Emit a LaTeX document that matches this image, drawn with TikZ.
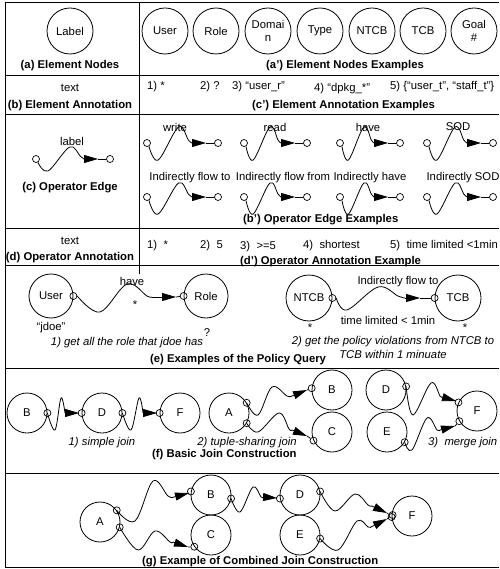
\documentclass[tikz,border=0pt]{standalone}
\usepackage{fontspec}
\setmainfont{Liberation Sans}
\usetikzlibrary{arrows.meta}
% #1 name, #2 x, #3 y, #4 trough depth, #5 crest height, #6 width (small circle to small circle)
\newcommand{\OpEdge}[6]{%
  \node[sc] (#1l) at (#2,#3) {};
  \node[sc] (#1r) at ({#2+#6},#3) {};
  \coordinate (#1b) at ({#2+#6-26},#3);
  \coordinate (#1t) at ({#2+#6-12},#3);
  \draw[wire] plot[smooth,tension=0.6] coordinates {(#1l.-60) ({#2+0.25*(#6-26)},{#3+#4}) ({#2+0.7*(#6-26)},{#3-#5}) ({#2+0.92*(#6-26)},{#3-3}) (#1b)};
  \draw[tri] (#1b) -- (#1t);
  \draw[wire] (#1t) -- (#1r);
}
\begin{document}
\begin{tikzpicture}[x=1pt,y=-1pt,
  every node/.style={font=\fontsize{11.3}{13}\selectfont, inner sep=0pt},
  bc/.style={circle,draw,line width=0.8pt,minimum size=46pt,inner sep=0pt,align=center},
  fc/.style={circle,draw,line width=0.8pt,minimum size=40pt,inner sep=0pt},
  sc/.style={circle,draw,line width=0.7pt,minimum size=7pt,inner sep=0pt},
  wire/.style={line width=0.8pt},
  tri/.style={line width=0.8pt,-{Triangle[length=14pt,width=8pt]}},
  gridln/.style={line width=1pt},
  captxt/.style={font=\fontsize{11.3}{13}\selectfont\bfseries},
  ital/.style={font=\fontsize{11.3}{13}\selectfont\itshape},
]
\useasboundingbox (0,0) rectangle (499,569);
% ---------- grid ----------
\foreach \yy in {3,76,115,228,265,368,473,567} \draw[gridln] (5,\yy) -- (499,\yy);
\draw[gridln] (5,3) -- (5,567);
\draw[gridln] (139,3) -- (139,274);

% ---------- row a ----------
\node[bc] (lab) at (70,31) {Label};
\node[captxt] (capa) at (70,66) {(a) Element Nodes};
\node[bc] (nUser) at (165,31) {User};
\node[bc] (nRole) at (216,31) {Role};
\node[bc] (nDom) at (268,31) {Domai\\n};
\node[bc] (nType) at (320,31) {Type};
\node[bc] (nNTCB) at (372,31) {NTCB};
\node[bc] (nTCB) at (423,31) {TCB};
\node[bc] (nGoal) at (474,31) {Goal\\\#};
\node[captxt,anchor=west] (capa2) at (266,66) {(a’) Element Nodes Examples};

% ---------- row b ----------
\node (txtb) at (70,88) {text};
\node[captxt] (capb) at (70,106) {(b) Element Annotation};
\node[anchor=west] (b1) at (147,87) {1) *};
\node[anchor=west] (b2) at (200,87) {2) ?};
\node[anchor=west] (b3) at (232,87) {3) “user\_r”};
\node[anchor=west] (b4) at (314,89) {4) “dpkg\_*”};
\node[anchor=west] (b5) at (390,87) {5) \{“user\_t”, “staff\_t”\}};
\node[captxt,anchor=west] (capc2) at (252,106) {(c’) Element Annotation Examples};

% ---------- row c ----------
\OpEdge{e0}{36}{159}{12}{12}{74}
\node (lbl0) at (72,141) {label};
\node[captxt] (capc) at (70,188) {(c) Operator Edge};

\OpEdge{ew}{147}{143}{17}{16}{71}
\OpEdge{er}{244}{143}{17}{16}{63}
\OpEdge{eh}{340}{143}{17}{16}{60}
\OpEdge{es}{427}{143}{17}{16}{66}
\node (lw) at (175,127) {write};
\node (lr) at (275,127) {read};
\node (lh) at (368,127) {have};
\node (ls) at (458,127) {SOD};

\OpEdge{iw}{147}{197}{17}{14}{71}
\OpEdge{ir}{244}{197}{17}{14}{63}
\OpEdge{ih}{340}{197}{17}{14}{60}
\OpEdge{is}{427}{197}{17}{14}{66}
\node (liw) at (190,178) {Indirectly flow to};
\node (lir) at (283,178) {Indirectly flow from};
\node (lih) at (370,178) {Indirectly have};
\node (lis) at (463,178) {Indirectly SOD};
\node[captxt,anchor=west] (capb2) at (243,220) {(b’) Operator Edge Examples};

% ---------- row d ----------
\node (txtd) at (70,241) {text};
\node[captxt] (capd) at (70,258) {(d) Operator Annotation};
\node[anchor=west] (d1) at (147,246) {1)\ \ *};
\node[anchor=west] (d2) at (200,246) {2)\ \ 5};
\node[anchor=west] (d3) at (240,247) {3)\ \ >=5};
\node[anchor=west] (d4) at (303,246) {4)\ \ shortest};
\node[anchor=west] (d5) at (390,246) {5)\ \ time limited <1min};
\node[captxt,anchor=west] (capd2) at (240,262) {(d’) Operator Annotation Example};

% ---------- row e ----------
\node[bc,minimum size=44pt] (qU) at (51,296) {User};
\node[bc,minimum size=44pt] (qR) at (206,296) {Role};
\node[sc] (qUs) at (qU.east) {};
\node[sc] (qRs) at (qR.west) {};
\coordinate (qb1) at (161,297);
\coordinate (qt1) at (176,297);
\draw[wire] plot[smooth,tension=0.6] coordinates {(qUs.east) (100,312) (127,284) (147,296) (152,297)};
\draw[wire] (152,297) -- (qb1);
\draw[tri] (qb1) -- (qt1);
\draw[wire] (qt1) -- (qRs);
\node (qhave) at (132,281) {have};
\node (qstar) at (135,305) {*};
\node (qjdoe) at (51,328) {“jdoe”};
\node (qq) at (207,333) {?};
\node[ital] (q1) at (127,343) {1) get all the role that jdoe has};

\node[bc] (qN) at (309,298) {NTCB};
\node[bc] (qT) at (458,298) {TCB};
\node[sc] (qNs) at (qN.east) {};
\node[sc] (qTs) at (qT.west) {};
\coordinate (qb2) at (405,298);
\coordinate (qt2) at (420,298);
\draw[wire] plot[smooth,tension=0.6] coordinates {(qNs.east) (347,310) (378,287) (398,296) (qb2)};
\draw[tri] (qb2) -- (qt2);
\draw[wire] (qt2) -- (qTs);
\node (qifl) at (398,282) {Indirectly flow to};
\node (qtl) at (388,320) {time limited < 1min};
\node (qs1) at (310,328) {*};
\node (qs2) at (465,328) {*};
\node[ital] (q2a) at (393,342) {2) get the policy violations from NTCB to};
\node[ital] (q2b) at (393,354) {TCB within 1 minuate};
\node[captxt,anchor=west] (cape) at (150,360) {(e) Examples of the Policy Query};

% ---------- row f ----------
% simple join
\node[fc] (fB) at (27,413) {B};
\node[fc] (fD) at (102,413) {D};
\node[fc] (fF) at (180,413) {F};
\node[sc] (fBs) at (fB.east) {};
\node[sc] (fDl) at (fD.west) {};
\node[sc] (fDr) at (fD.east) {};
\node[sc] (fFl) at (fF.west) {};
\coordinate (fb1) at (65,413); \coordinate (ft1) at (79,413);
\draw[wire] plot[smooth,tension=0.6] coordinates {(fBs.center) (55,430) (61,398) (fb1)};
\draw[tri] (fb1) -- (ft1); \draw[wire] (ft1) -- (fDl);
\coordinate (fb2) at (143,413); \coordinate (ft2) at (157,413);
\draw[wire] plot[smooth,tension=0.6] coordinates {(fDr.center) (131,430) (139,398) (fb2)};
\draw[tri] (fb2) -- (ft2); \draw[wire] (ft2) -- (fFl);
\node[ital] (fl1) at (102,443) {1) simple join};
% tuple-sharing join
\node[fc] (tA) at (229,413) {A};
\node[fc] (tB) at (332,390) {B};
\node[fc] (tC) at (332,432) {C};
\node[sc] (tA1) at (tA.30) {};
\node[sc] (tA2) at (tA.-30) {};
\node[sc] (tBs) at (tB.175) {};
\node[sc] (tCs) at (tC.205) {};
\coordinate (tb1) at (292,396); \coordinate (tt1) at (307,390);
\draw[wire] plot[smooth,tension=0.6] coordinates {(tA1.center) (258,415) (272,387) (287,396) (tb1)};
\draw[tri] (tb1) -- (tt1); \draw[wire] (tt1) -- (tBs);
\coordinate (tb2) at (292,430); \coordinate (tt2) at (307,436);
\draw[wire] plot[smooth,tension=0.6] coordinates {(tA2.center) (258,432) (279,413) (289,429) (tb2)};
\draw[tri] (tb2) -- (tt2); \draw[wire] (tt2) -- (tCs);
\node[ital] (fl2) at (247,443) {2) tuple-sharing join};
% merge join
\node[fc] (mD) at (386,390) {D};
\node[fc] (mE) at (387,432) {E};
\node[fc] (mF) at (477,411) {F};
\node[sc] (mDs) at (mD.10) {};
\node[sc] (mEs) at (mE.-30) {};
\node[sc] (mF1) at (mF.155) {};
\node[sc] (mF2) at (mF.-150) {};
\coordinate (mb1) at (442,397); \coordinate (mt1) at (456,401);
\draw[wire] plot[smooth,tension=0.6] coordinates {(mDs.center) (413,415) (431,383) (440,396) (mb1)};
\draw[tri] (mb1) -- (mt1); \draw[wire] (mt1) -- (mF1);
\coordinate (mb2) at (440,430); \coordinate (mt2) at (455,426);
\draw[wire] plot[smooth,tension=0.6] coordinates {(mEs.center) (412,450) (427,418) (437,430) (mb2)};
\draw[tri] (mb2) -- (mt2); \draw[wire] (mt2) -- (mF2);
\node[ital,anchor=west] (fl3) at (428,443) {3)\ \ merge join};
\node[captxt,anchor=west] (capf) at (152,455) {(f) Basic Join Construction};

% ---------- row g ----------
\node[fc] (gA) at (100,522) {A};
\node[fc] (gB) at (211,495) {B};
\node[fc] (gC) at (211,535) {C};
\node[fc] (gD) at (300,495) {D};
\node[fc] (gE) at (300,535) {E};
\node[fc] (gF) at (412,516) {F};
\node[sc] (gA1) at (gA.35) {};
\node[sc] (gA2) at (gA.-15) {};
\node[sc] (gBl) at (gB.170) {};
\node[sc] (gBr) at (gB.-10) {};
\node[sc] (gDl) at (gD.190) {};
\node[sc] (gDr) at (gD.10) {};
\node[sc] (gCs) at (gC.215) {};
\node[sc] (gEs) at (gE.-10) {};
\node[sc] (gF1) at ([yshift=-1pt]gF.west) {};
\node[sc] (gF2) at ([yshift=1pt,xshift=1pt]gF.west) {};
% A -> B
\coordinate (gb1) at (174,497); \coordinate (gt1) at (189,493);
\draw[wire] plot[smooth,tension=0.6] coordinates {(gA1.center) (135,521) (153,481) (168,496) (gb1)};
\draw[tri] (gb1) -- (gt1); \draw[wire] (gt1) -- (gBl);
% A -> C
\coordinate (gb2) at (173,542); \coordinate (gt2) at (188,547);
\draw[wire] plot[smooth,tension=0.6] coordinates {(gA2.center) (138,550) (155,531) (170,542) (gb2)};
\draw[tri] (gb2) -- (gt2); \draw[wire] (gt2) -- (gCs);
% B -> D
\coordinate (gb3) at (263,497); \coordinate (gt3) at (277,498);
\draw[wire] plot[smooth,tension=0.6] coordinates {(gBr.center) (240,512) (253,487) (261,497) (gb3)};
\draw[tri] (gb3) -- (gt3); \draw[wire] (gt3) -- (gDl);
% D -> F
\coordinate (gb4) at (372,506); \coordinate (gt4) at (387,513);
\draw[wire] plot[smooth,tension=0.6] coordinates {(gDr.center) (335,511) (355,494) (368,505) (gb4)};
\draw[tri] (gb4) -- (gt4); \draw[wire] (gt4) -- (gF1);
% E -> F
\coordinate (gb5) at (371,527); \coordinate (gt5) at (387,519);
\draw[wire] plot[smooth,tension=0.6] coordinates {(gEs.center) (338,550) (357,521) (368,527) (gb5)};
\draw[tri] (gb5) -- (gt5); \draw[wire] (gt5) -- (gF2);
\node[captxt,anchor=west] (capg) at (142,562) {(g) Example of Combined Join Construction};
\end{tikzpicture}
\end{document}
